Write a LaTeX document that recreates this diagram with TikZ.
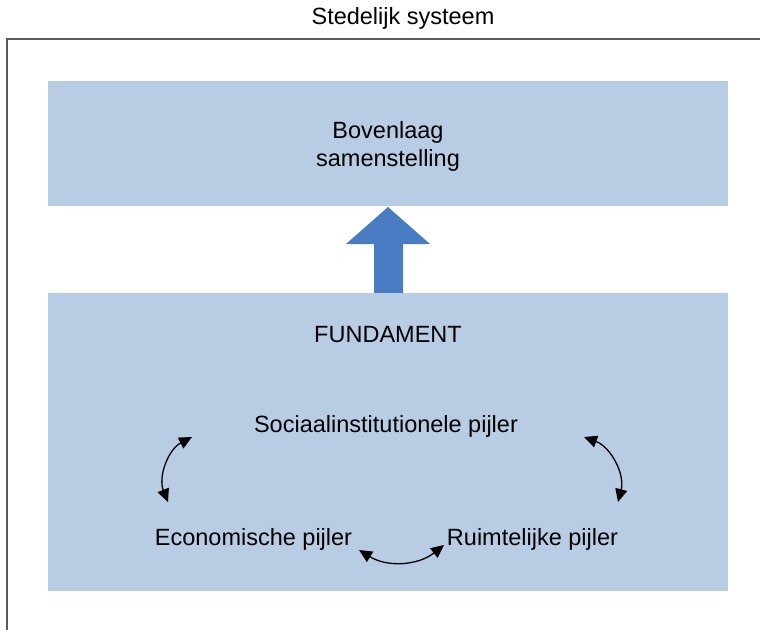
\documentclass[tikz,border=0pt]{standalone}
\usepackage{fontspec}
\setmainfont{Liberation Sans}
\usetikzlibrary{arrows.meta}
\definecolor{laagblauw}{HTML}{B8CCE4}
\definecolor{pijlblauw}{HTML}{4A7CC4}
\definecolor{kadergrijs}{HTML}{5A5A5A}
\tikzset{
  laag/.style={fill=laagblauw, minimum width=680pt, inner sep=0pt},
  tekst/.style={font=\fontsize{23.5}{28}\selectfont, anchor=base, inner sep=0pt},
  wissel/.style={{Triangle[length=13pt,width=12pt]}-{Triangle[length=13pt,width=12pt]}, line width=1.3pt}
}
\begin{document}
\begin{tikzpicture}[x=1pt, y=-1pt]
  \path[use as bounding box, clip] (0,0) rectangle (760,629);
  \draw[kadergrijs, line width=1.5pt] (7,39) rectangle (820,680);
  \node[tekst] (titel) at (403,24) {Stedelijk systeem};
  % bovenlaag
  \node[laag, minimum height=125pt] (boven) at (388,143.5) {};
  \node[tekst] (boven1) at (388,138) {Bovenlaag};
  \node[tekst] (boven2) at (388,166) {samenstelling};
  % pijl omhoog
  \fill[pijlblauw] (374,293) -- (374,244) -- (346,244) -- (388,207) -- (430,244)
    -- (403,244) -- (403,293) -- cycle;
  % fundament
  \node[laag, minimum height=298pt] (fundament) at (388,442) {};
  \node[tekst] (fundtekst) at (388,342) {FUNDAMENT};
  \node[tekst] (sociaal) at (386,432) {Sociaalinstitutionele pijler};
  \node[tekst] (economisch) at (253.5,545) {Economische pijler};
  \node[tekst] (ruimtelijk) at (532.5,545) {Ruimtelijke pijler};
  \coordinate (le1) at (168,502);
  \coordinate (le2) at (192,437);
  \coordinate (re1) at (584,437);
  \coordinate (re2) at (618,502);
  \coordinate (on1) at (359,550);
  \coordinate (on2) at (444,545);
  \draw[wissel] (le1) to[bend left=42] (le2);
  \draw[wissel] (re1) to[bend left=42] (re2);
  \draw[wissel] (on1) to[bend right=35] (on2);
\end{tikzpicture}
\end{document}
